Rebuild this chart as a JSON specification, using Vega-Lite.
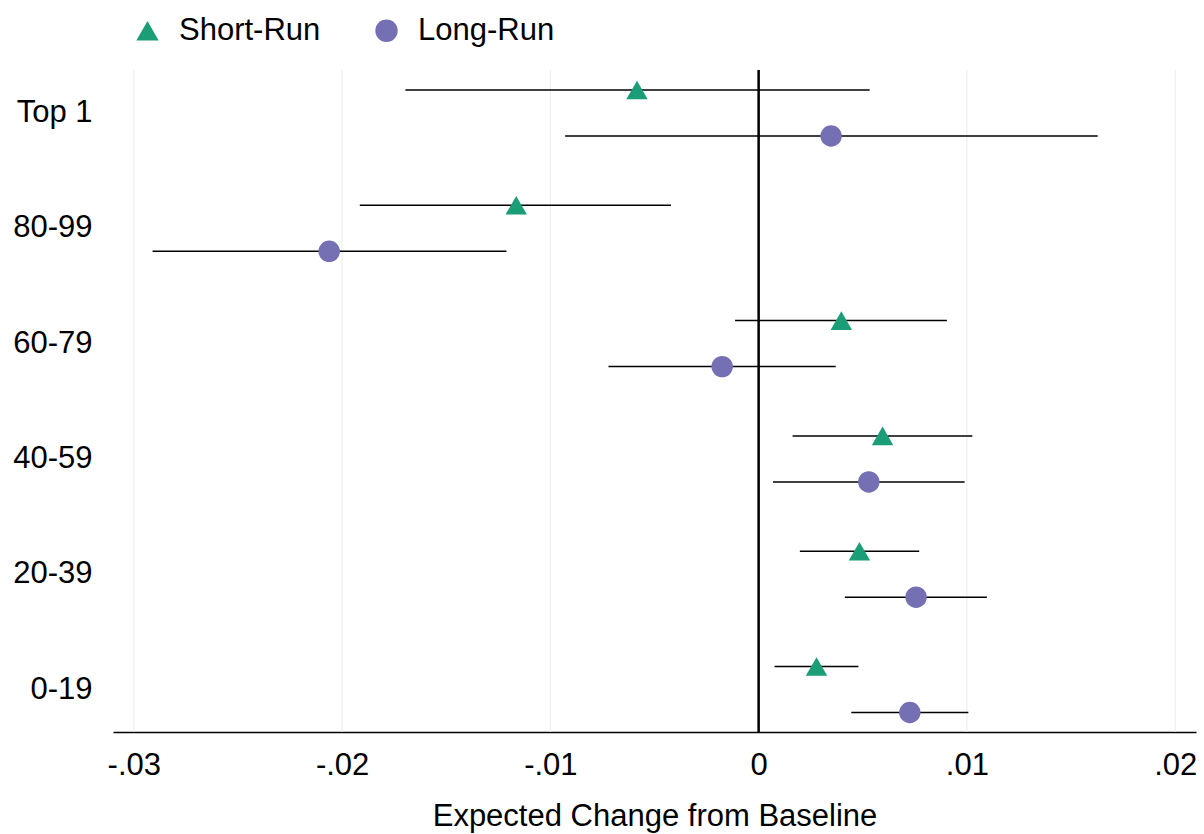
{
  "$schema": "https://vega.github.io/schema/vega-lite/v6.json",
  "width": 1083,
  "height": 662,
  "autosize": {"type": "none"},
  "padding": {"left": 113, "top": 70, "right": 8, "bottom": 102},
  "background": "white",
  "config": {
    "font": "Liberation Sans",
    "view": {"stroke": null}
  },
  "datasets": {
    "est": [
      {"group": "Top 1", "series": "Short-Run", "est": -0.00584, "lo": -0.01696, "hi": 0.00533},
      {"group": "Top 1", "series": "Long-Run", "est": 0.00348, "lo": -0.00929, "hi": 0.01628},
      {"group": "80-99", "series": "Short-Run", "est": -0.01164, "lo": -0.01915, "hi": -0.00421},
      {"group": "80-99", "series": "Long-Run", "est": -0.02062, "lo": -0.0291, "hi": -0.01211},
      {"group": "60-79", "series": "Short-Run", "est": 0.00397, "lo": -0.00113, "hi": 0.00904},
      {"group": "60-79", "series": "Long-Run", "est": -0.00175, "lo": -0.00721, "hi": 0.0037},
      {"group": "40-59", "series": "Short-Run", "est": 0.00595, "lo": 0.00163, "hi": 0.01026},
      {"group": "40-59", "series": "Long-Run", "est": 0.00529, "lo": 0.00069, "hi": 0.00989},
      {"group": "20-39", "series": "Short-Run", "est": 0.00484, "lo": 0.00198, "hi": 0.00771},
      {"group": "20-39", "series": "Long-Run", "est": 0.00756, "lo": 0.00414, "hi": 0.01096},
      {"group": "0-19", "series": "Short-Run", "est": 0.00278, "lo": 0.00076, "hi": 0.00479},
      {"group": "0-19", "series": "Long-Run", "est": 0.00726, "lo": 0.00445, "hi": 0.01007}
    ],
    "ticks": [{"tick": -0.03}, {"tick": -0.02}, {"tick": -0.01}, {"tick": 0.01}, {"tick": 0.02}],
    "ref": [{"ref": 0}]
  },
  "layer": [
    {
      "data": {"name": "ticks"},
      "mark": {"type": "rule", "color": "#ececec", "strokeWidth": 1},
      "encoding": {"x": {"field": "tick", "type": "quantitative"}}
    },
    {
      "data": {"name": "est"},
      "mark": {"type": "rule", "color": "black", "strokeWidth": 1.5},
      "encoding": {
        "y": {
          "field": "group", "type": "nominal",
          "sort": ["Top 1", "80-99", "60-79", "40-59", "20-39", "0-19"],
          "scale": {"range": [-14.65, 677.15], "paddingInner": 0, "paddingOuter": 0},
          "axis": {"ticks": false, "domain": false, "grid": false, "labelFontSize": 31, "labelColor": "black", "labelPadding": 21, "labelAlign": "right"},
          "title": null
        },
        "yOffset": {
          "field": "series", "type": "nominal",
          "sort": ["Short-Run", "Long-Run"],
          "scale": {"paddingInner": 0, "paddingOuter": 0.253}
        },
        "x": {
          "field": "lo", "type": "quantitative",
          "scale": {"domain": [-0.031, 0.021], "nice": false, "zero": false},
          "axis": {
            "values": [-0.03, -0.02, -0.01, 0, 0.01, 0.02],
            "labelExpr": "(datum.value < 0 ? '-' : '') + replace(format(abs(datum.value), '.2~f'), '0.', '.')",
            "grid": false,
            "ticks": false,
            "domainColor": "black", "domainWidth": 1.5,
            "labelFontSize": 31, "labelColor": "black", "labelPadding": 18,
            "titleFontSize": 31, "titleFontWeight": "normal", "titleColor": "black", "titlePadding": 21
          },
          "title": "Expected Change from Baseline"
        },
        "x2": {"field": "hi"}
      }
    },
    {
      "data": {"name": "ref"},
      "mark": {"type": "rule", "color": "black", "strokeWidth": 2.5},
      "encoding": {"x": {"field": "ref", "type": "quantitative"}}
    },
    {
      "data": {"name": "est"},
      "mark": {"type": "point", "filled": true, "opacity": 1, "size": 460},
      "encoding": {
        "y": {"field": "group", "type": "nominal", "sort": ["Top 1", "80-99", "60-79", "40-59", "20-39", "0-19"]},
        "yOffset": {"field": "series", "type": "nominal", "sort": ["Short-Run", "Long-Run"]},
        "x": {"field": "est", "type": "quantitative"},
        "color": {
          "field": "series", "type": "nominal",
          "scale": {"domain": ["Short-Run", "Long-Run"], "range": ["#1b9e77", "#7570b3"]},
          "legend": {
            "orient": "none", "legendX": 19, "legendY": -55, "direction": "horizontal",
            "title": null, "padding": 0, "labelFontSize": 31, "labelColor": "black",
            "symbolSize": 500, "symbolStrokeWidth": 0, "labelOffset": 16, "columnPadding": 50
          }
        },
        "shape": {
          "field": "series", "type": "nominal",
          "scale": {"domain": ["Short-Run", "Long-Run"], "range": ["triangle-up", "circle"]},
          "legend": {
            "orient": "none", "legendX": 19, "legendY": -55, "direction": "horizontal",
            "title": null, "padding": 0, "labelFontSize": 31, "labelColor": "black",
            "symbolSize": 500, "symbolStrokeWidth": 0, "labelOffset": 16, "columnPadding": 50
          }
        }
      }
    }
  ]
}
